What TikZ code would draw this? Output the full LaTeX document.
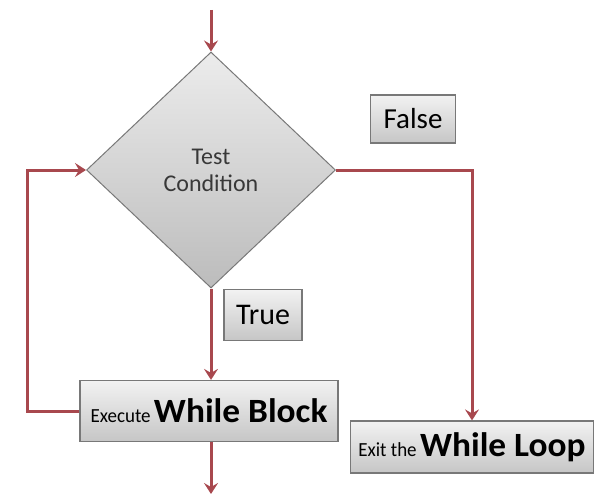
\documentclass[tikz,border=0pt]{standalone}
\usepackage{fontspec}
\setmainfont{Carlito}
\usetikzlibrary{shapes.geometric,arrows.meta}
\definecolor{lnred}{RGB}{168,72,78}
\definecolor{bordergray}{RGB}{120,120,120}
\definecolor{toptone}{RGB}{242,242,242}
\definecolor{bottone}{RGB}{198,198,198}
\definecolor{dtop}{RGB}{236,236,236}
\definecolor{dbot}{RGB}{188,188,188}
\tikzset{
  conn/.style={draw=lnred, line width=3pt, -{Stealth[length=11pt,width=14pt,inset=4pt]}},
  gbox/.style={rectangle, draw=bordergray, line width=1.2pt, top color=toptone, bottom color=bottone, inner sep=0pt},
  gdiam/.style={diamond, draw=bordergray, line width=1pt, top color=dtop, bottom color=dbot, inner sep=0pt, minimum width=249pt, minimum height=236pt},
}
\begin{document}
\begin{tikzpicture}[x=1pt,y=-1pt]
\useasboundingbox (0,0) rectangle (604,497);
\node[gdiam, align=center, text=black!78, font=\fontsize{24}{27}\selectfont] (d) at (211,170) {Test\\Condition};
\node[gbox, minimum width=85pt, minimum height=48pt, font=\fontsize{29}{32}\selectfont] (f) at (413,119) {False};
\node[gbox, minimum width=78pt, minimum height=51pt, font=\fontsize{30}{32}\selectfont] (t) at (263,315) {True};
\node[gbox, minimum width=258pt, minimum height=61pt] (ex) at (209,411) {\fontsize{20}{22}\selectfont\addfontfeature{FakeStretch=0.95}Execute\,\fontsize{34}{36}\selectfont\bfseries\addfontfeature{FakeStretch=1.04}While Block};
\node[gbox, minimum width=243pt, minimum height=52pt] (ext) at (472,447) {\fontsize{20}{22}\selectfont\addfontfeature{FakeStretch=0.95}Exit the\,\fontsize{34}{36}\selectfont\bfseries\addfontfeature{FakeStretch=1.04}While Loop};
\coordinate (top) at (211,10);
\coordinate (bot) at (211,494);
\coordinate (lx) at (27,0);
\coordinate (rx) at (472,0);
\draw[conn] (top) -- (d.north);
\draw[conn] (d.south) -- (d.south |- ex.north);
\draw[conn] (ex.south -| d.south) -- (bot);
\draw[conn] (ex.west) -- (lx |- ex.west) |- (d.west);
\draw[conn] (d.east) -- (rx |- d.east) -- (ext.north);
\end{tikzpicture}
\end{document}
